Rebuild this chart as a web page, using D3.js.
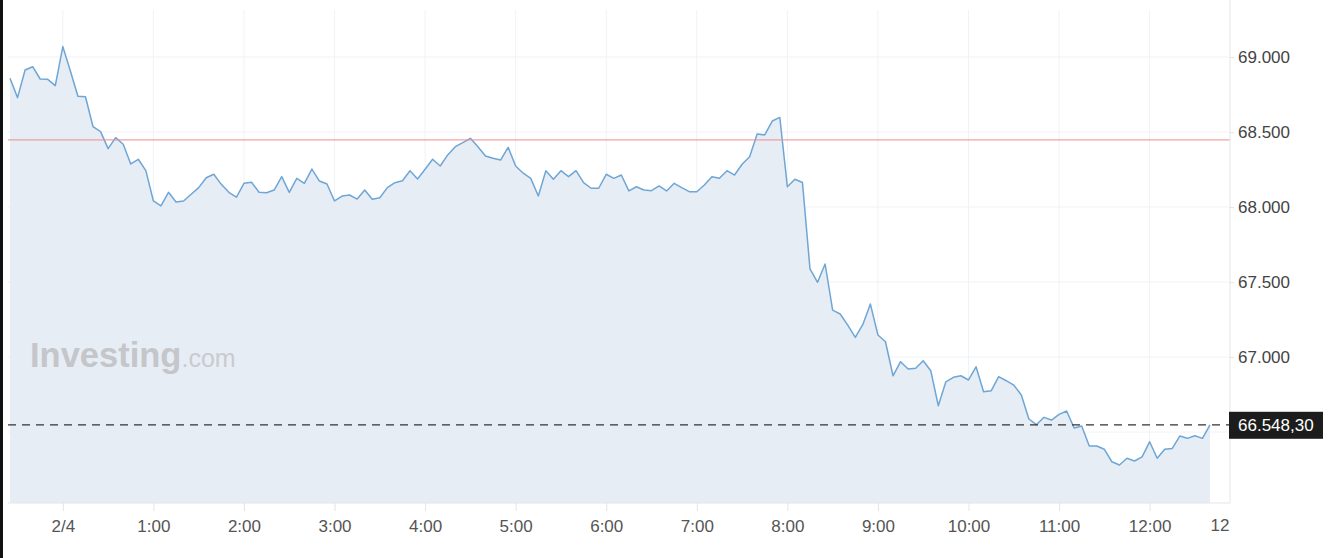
<!DOCTYPE html>
<html>
<head>
<meta charset="utf-8">
<script src="https://cdn.jsdelivr.net/npm/d3@7"></script>
<style>
    body { margin: 0; background: #fff; overflow: hidden; }
    svg { display: block; font-family: "Liberation Sans", Arial, sans-serif; }
</style>
</head>
<body>
<div id="chart"></div>
<script>
// 5-minute closes
const prices = [
    68858, 68729, 68913, 68935, 68853, 68851, 68809, 69069, 68907, 68738,
    68735, 68535, 68502, 68389, 68462, 68418, 68287, 68318, 68242, 68040,
    68007, 68098, 68033, 68040, 68085, 68129, 68195, 68218, 68151, 68098,
    68065, 68158, 68165, 68098, 68095, 68113, 68202, 68097, 68191, 68158,
    68253, 68173, 68153, 68040, 68073, 68080, 68053, 68113, 68051, 68062,
    68129, 68162, 68175, 68242, 68187, 68251, 68318, 68273, 68347, 68402,
    68429, 68458, 68402, 68340, 68325, 68313, 68398, 68273, 68225, 68191,
    68073, 68242, 68185, 68242, 68202, 68242, 68162, 68125, 68125, 68218,
    68191, 68213, 68107, 68135, 68113, 68109, 68140, 68107, 68158, 68129,
    68102, 68102, 68147, 68202, 68191, 68242, 68213, 68285, 68335, 68487,
    68480, 68573, 68597, 68135, 68185, 68163, 67587, 67498, 67620, 67313,
    67287, 67213, 67131, 67217, 67353, 67147, 67102, 66875, 66969, 66920,
    66925, 66975, 66909, 66675, 66835, 66865, 66875, 66847, 66935, 66769,
    66775, 66869, 66842, 66813, 66747, 66587, 66549, 66598, 66580, 66618,
    66640, 66527, 66540, 66407, 66407, 66385, 66302, 66280, 66325, 66307,
    66335, 66435, 66325, 66385, 66391, 66473, 66458, 66475, 66458, 66548.3
];
const startTime = new Date(2025, 1, 3, 23, 25);
const stepMinutes = 5;
const previousClose = 68447;
const lastPrice = 66548.30;
const yTicks = [66500, 67000, 67500, 68000, 68500, 69000];
const yDomain = [66027, 69313];
const cutLabel = "12";
const watermark = ["Investing", ".com"];

const width = 1329, height = 558;
const plot = { left: 8, right: 1230, top: 10, bottom: 503 };

const data = prices.map((p, i) => ({
    date: new Date(startTime.getTime() + i * stepMinutes * 60000),
    price: p
}));

const locale = d3.formatLocale({ decimal: ",", thousands: ".", grouping: [3], currency: ["", ""] });
const fmtTick = locale.format(",.0f");
const fmtLast = locale.format(",.2f");

const x = d3.scaleTime()
    .domain(d3.extent(data, d => d.date))
    .range([10, 1210]);

const y = d3.scaleLinear()
    .domain(yDomain)
    .range([plot.bottom, plot.top]);

const svg = d3.select("#chart")
    .append("svg")
    .attr("width", width)
    .attr("height", height);

// dark strip at the left edge
svg.append("rect")
    .attr("x", 0).attr("y", 0)
    .attr("width", 3).attr("height", height)
    .attr("fill", "#111");

const hourTicks = x.ticks(d3.timeHour.every(1));

// grid
svg.append("g")
    .selectAll("line")
    .data(yTicks)
    .join("line")
    .attr("x1", plot.left).attr("x2", plot.right)
    .attr("y1", d => y(d)).attr("y2", d => y(d))
    .attr("stroke", "#f0f2f5");

svg.append("g")
    .selectAll("line")
    .data(hourTicks)
    .join("line")
    .attr("x1", d => x(d)).attr("x2", d => x(d))
    .attr("y1", plot.top).attr("y2", plot.bottom)
    .attr("stroke", "#f0f2f5");

// area + line
const area = d3.area()
    .x(d => x(d.date))
    .y0(plot.bottom)
    .y1(d => y(d.price));

const line = d3.line()
    .x(d => x(d.date))
    .y(d => y(d.price));

svg.append("path")
    .datum(data)
    .attr("d", area)
    .attr("fill", "#e7edf5");

// watermark
const wm = svg.append("text")
    .attr("x", 30)
    .attr("y", 367)
    .attr("fill", "#c4c6c9");
wm.append("tspan")
    .attr("font-size", 34.5)
    .attr("font-weight", "bold")
    .text(watermark[0]);
wm.append("tspan")
    .attr("font-size", 25)
    .attr("fill", "#c9cbce")
    .text(watermark[1]);

svg.append("path")
    .datum(data)
    .attr("d", line)
    .attr("fill", "none")
    .attr("stroke", "#6ea6d6")
    .attr("stroke-width", 1.5)
    .attr("stroke-linejoin", "round");

// previous close
svg.append("line")
    .attr("x1", plot.left).attr("x2", plot.right)
    .attr("y1", y(previousClose)).attr("y2", y(previousClose))
    .attr("stroke", "#ef8c8c")
    .attr("stroke-width", 1);

// last price
svg.append("line")
    .attr("x1", plot.left).attr("x2", plot.right)
    .attr("y1", y(lastPrice)).attr("y2", y(lastPrice))
    .attr("stroke", "#333")
    .attr("stroke-width", 1.2)
    .attr("stroke-dasharray", "8,6");

// axis lines
svg.append("line")
    .attr("x1", plot.left).attr("x2", plot.right)
    .attr("y1", plot.bottom).attr("y2", plot.bottom)
    .attr("stroke", "#e2e5e9");
svg.append("line")
    .attr("x1", plot.right).attr("x2", plot.right)
    .attr("y1", 0).attr("y2", plot.bottom)
    .attr("stroke", "#e2e5e9");

// x axis
const xAxis = svg.append("g")
    .attr("transform", `translate(0,${plot.bottom})`)
    .call(d3.axisBottom(x)
        .tickValues(hourTicks)
        .tickSize(8)
        .tickPadding(9)
        .tickFormat(d => d.getHours() === 0 ? d3.timeFormat("%-m/%-d")(d) : d3.timeFormat("%-H:%M")(d)));
xAxis.select(".domain").remove();
xAxis.selectAll("line").attr("stroke", "#e2e5e9");
xAxis.selectAll("text")
    .attr("font-size", 17)
    .attr("fill", "#555")
    .attr("font-family", "Liberation Sans, Arial, sans-serif");

svg.append("text")
    .attr("x", 1220)
    .attr("y", plot.bottom + 28)
    .attr("text-anchor", "middle")
    .attr("font-size", 17)
    .attr("fill", "#555")
    .text(cutLabel);

// y axis
const yAxis = svg.append("g")
    .attr("transform", `translate(${plot.right},0)`)
    .call(d3.axisRight(y)
        .tickValues(yTicks.filter(d => d > 66520))
        .tickSize(4)
        .tickPadding(4)
        .tickFormat(fmtTick));
yAxis.select(".domain").remove();
yAxis.selectAll("line").attr("stroke", "#e2e5e9");
yAxis.selectAll("text")
    .attr("font-size", 17)
    .attr("fill", "#444")
    .attr("font-family", "Liberation Sans, Arial, sans-serif");

// last price tag
svg.append("rect")
    .attr("x", plot.right - 1)
    .attr("y", y(lastPrice) - 13)
    .attr("width", 94)
    .attr("height", 27)
    .attr("fill", "#1c1c1c");
svg.append("text")
    .attr("x", 1238)
    .attr("y", y(lastPrice))
    .attr("dy", "0.35em")
    .attr("font-size", 17)
    .attr("fill", "#fff")
    .text(fmtLast(lastPrice));
</script>
</body>
</html>
